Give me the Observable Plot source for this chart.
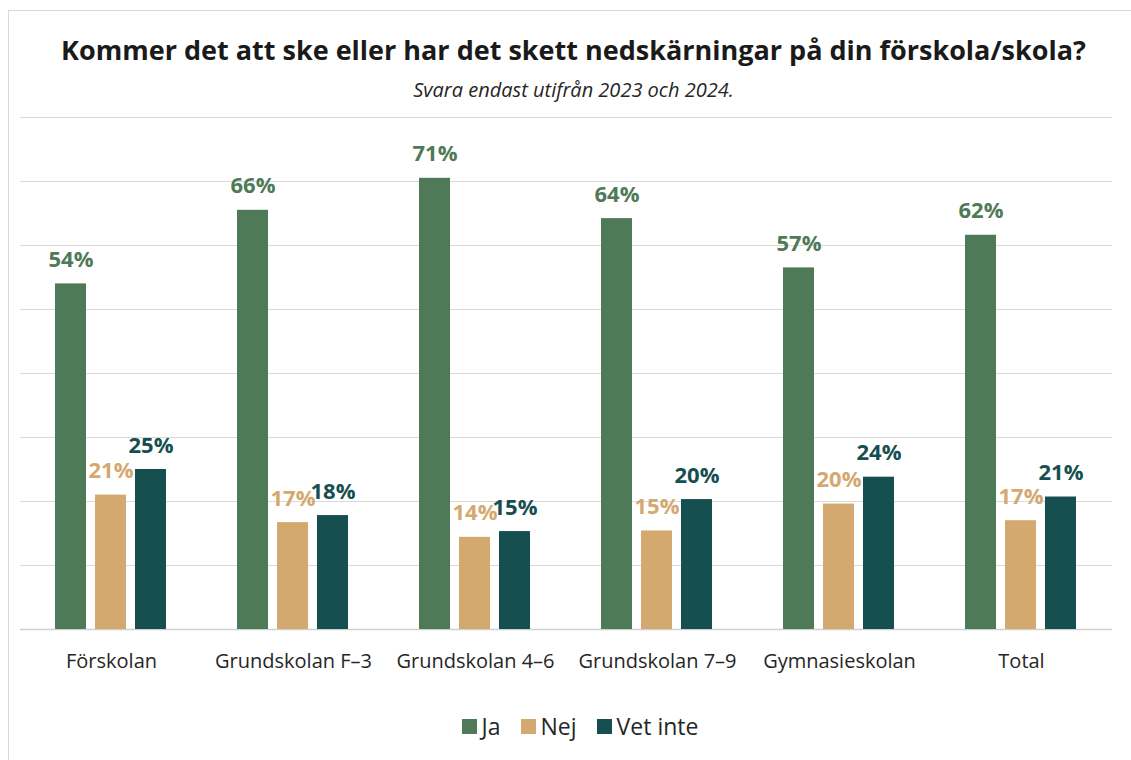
<!DOCTYPE html>
<html><head><meta charset="utf-8">
<script src="https://cdn.jsdelivr.net/npm/d3@7"></script>
<script src="https://cdn.jsdelivr.net/npm/@observablehq/plot@0.6"></script>
<style>
body{margin:0;background:#fff;font-family:"Open Sans",sans-serif;width:1131px;height:760px;overflow:hidden;position:relative;}
#frame{position:absolute;left:8px;top:10px;width:1200px;height:800px;border:1.5px solid #d9d9d9;box-sizing:border-box;}
#title{position:absolute;left:0;top:32px;width:1147px;text-align:center;font-weight:700;font-size:27px;color:#1a1a1a;line-height:36px;}
#subtitle{position:absolute;left:0;top:76px;width:1147px;text-align:center;font-style:italic;font-size:20px;color:#262626;line-height:28px;}
#chart{position:absolute;left:0;top:107px;}
#legend{position:absolute;left:0;top:710px;width:1160px;display:flex;justify-content:center;gap:20px;font-size:23px;color:#262626;line-height:32px;}
.item{display:flex;align-items:center;gap:5px;}
.sw{width:15px;height:15px;display:inline-block;}
</style>
</head><body>
<div id="frame"></div>
<div id="title">Kommer det att ske eller har det skett nedskärningar på din förskola/skola?</div>
<div id="subtitle">Svara endast utifrån 2023 och 2024.</div>
<div id="chart"></div>
<div id="legend"></div>
<script>
const categories = ["Förskolan","Grundskolan F–3","Grundskolan 4–6","Grundskolan 7–9","Gymnasieskolan","Total"];
const series = ["Ja","Nej","Vet inte"];
// bar heights
const ja = [54.0,65.5,70.5,64.2,56.5,61.6];
const nej = [21.0,16.7,14.4,15.4,19.6,17.0];
const vetInte = [25.0,17.8,15.3,20.3,23.8,20.7];
// printed data labels
const jaLabels = ["54%","66%","71%","64%","57%","62%"];
const nejLabels = ["21%","17%","14%","15%","20%","17%"];
const vetInteLabels = ["25%","18%","15%","20%","24%","21%"];
const colors = ["#4f7a57","#d4a96f","#164f50"];
const gridTicks = [10,20,30,40,50,60,70,80];

const values = [ja, nej, vetInte];
const labels = [jaLabels, nejLabels, vetInteLabels];
const data = categories.flatMap((c,i)=>series.map((s,j)=>({category:c, series:s, value:values[j][i], label:labels[j][i]})));

const chart = Plot.plot({
  width:1131, height:570,
  marginLeft:19, marginRight:18, marginTop:10, marginBottom:48,
  style:{fontFamily:"'Open Sans', sans-serif", background:"transparent"},
  fx:{domain:categories, padding:0, label:null},
  x:{domain:series, paddingInner:0.22, paddingOuter:0.83, axis:null},
  y:{domain:[0,80], axis:null},
  color:{domain:series, range:colors},
  marks:[
    Plot.ruleY(gridTicks, {stroke:"#d9d9d9", strokeWidth:1}),
    Plot.ruleY([0], {stroke:"#d0d0d0", strokeWidth:1.5}),
    Plot.barY(data, {fx:"category", x:"series", y:"value", fill:"series"}),
    Plot.text(data, {fx:"category", x:"series", y:"value", text:"label", fill:"series", dy:-17, lineAnchor:"bottom", fontWeight:700, fontSize:22}),
    Plot.axisFx({anchor:"bottom", tickSize:0, tickPadding:24, fontSize:20, fill:"#262626", label:null})
  ]
});
document.getElementById("chart").appendChild(chart);

const lg = document.getElementById("legend");
series.forEach((s,j)=>{
  const it = document.createElement("div"); it.className="item";
  const sw = document.createElement("span"); sw.className="sw"; sw.style.background=colors[j];
  const t = document.createElement("span"); t.textContent=s;
  it.appendChild(sw); it.appendChild(t); lg.appendChild(it);
});
</script>
</body></html>
